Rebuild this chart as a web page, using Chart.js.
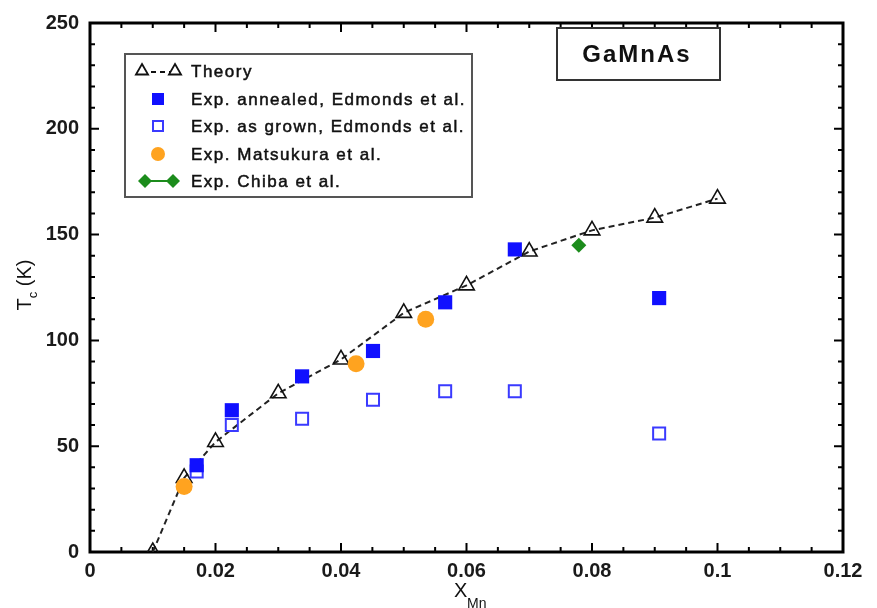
<!DOCTYPE html>
<html>
<head>
<meta charset="utf-8">
<title>GaMnAs Tc</title>
<script src="https://cdn.jsdelivr.net/npm/chart.js@4.4.1/dist/chart.umd.min.js"></script>
<style>
  html, body { margin: 0; padding: 0; background: #fff; }
  canvas { display: block; }
</style>
</head>
<body>
<canvas id="tcChart" width="877" height="608"></canvas>
<script>
// Curie temperature vs Mn fraction
const theoryX = [0.01, 0.015, 0.02, 0.03, 0.04, 0.05, 0.06, 0.07, 0.08, 0.09, 0.1];
const theoryTc = [0, 35, 52, 75, 91, 113, 126, 142, 152, 158, 167];

const edmondsX = [0.017, 0.0226, 0.0338, 0.0451, 0.0566, 0.0677, 0.0907];
const annealedTc = [41, 67, 83, 95, 118, 143, 120];
const asGrownTc = [38, 60, 63, 72, 76, 76, 56];

const matsukuraX = [0.015, 0.0424, 0.0535];
const matsukuraTc = [31, 89, 110];

const chibaX = [0.0779];
const chibaTc = [145];

const xTickLabels = [0, 0.02, 0.04, 0.06, 0.08, 0.1, 0.12];
const yTickLabels = [0, 50, 100, 150, 200, 250];

const legendLabels = [
  'Theory',
  'Exp. annealed, Edmonds et al.',
  'Exp. as grown, Edmonds et al.',
  'Exp. Matsukura et al.',
  'Exp. Chiba et al.'
];

const toPoints = (xs, ys) => xs.map((x, i) => ({ x: x, y: ys[i] }));

const FONT = '"Liberation Sans", Arial, sans-serif';
const BLUE = '#1010ff';
const BLUE_OPEN = '#3a3aff';
const ORANGE = '#ffa31f';
const GREEN = '#1c8c1c';

// frame with inward major/minor ticks on all four sides
const frameTicks = {
  id: 'frameTicks',
  beforeDatasetsDraw(chart) {
    const { ctx, chartArea: a, scales: { x, y } } = chart;
    ctx.save();
    ctx.strokeStyle = '#000';
    ctx.lineWidth = 2;
    ctx.beginPath();
    for (let i = 0; i <= 24; i++) {
      const px = x.getPixelForValue(i * 0.005);
      const len = i % 4 === 0 ? 9 : 5;
      ctx.moveTo(px, a.bottom); ctx.lineTo(px, a.bottom - len);
      ctx.moveTo(px, a.top); ctx.lineTo(px, a.top + len);
    }
    for (let i = 0; i <= 25; i++) {
      const py = y.getPixelForValue(i * 10);
      const len = i % 5 === 0 ? 9 : 5;
      ctx.moveTo(a.left, py); ctx.lineTo(a.left + len, py);
      ctx.moveTo(a.right, py); ctx.lineTo(a.right - len, py);
    }
    ctx.stroke();
    ctx.lineWidth = 3;
    ctx.strokeRect(a.left, a.top, a.right - a.left, a.bottom - a.top);

    // axis titles with subscripts
    ctx.fillStyle = '#111';
    ctx.textBaseline = 'alphabetic';
    ctx.textAlign = 'left';
    ctx.save();
    ctx.translate(31, 285);
    ctx.rotate(-Math.PI / 2);
    ctx.font = '20px ' + FONT;
    const wT = ctx.measureText('T').width;
    const wK = ctx.measureText(' (K)').width;
    ctx.font = '13px ' + FONT;
    const wc = ctx.measureText('c').width;
    const sx = -(wT + wc + wK) / 2;
    ctx.font = '20px ' + FONT;
    ctx.fillText('T', sx, 0);
    ctx.fillText(' (K)', sx + wT + wc, 0);
    ctx.font = '13px ' + FONT;
    ctx.fillText('c', sx + wT, 6);
    ctx.restore();

    ctx.font = '20px ' + FONT;
    ctx.fillText('X', 454, 597);
    ctx.font = '14px ' + FONT;
    ctx.fillText('Mn', 467, 608);
    ctx.restore();
  },
  afterDraw(chart) {
    const { ctx } = chart;
    ctx.save();

    // legend box
    ctx.fillStyle = '#fff';
    ctx.fillRect(125, 54, 347, 143);
    ctx.strokeStyle = '#555';
    ctx.lineWidth = 2;
    ctx.strokeRect(125, 54, 347, 143);

    const rows = [71, 99, 126, 154, 181];
    // Theory: triangle - dash - triangle
    ctx.strokeStyle = '#111';
    ctx.lineWidth = 1.8;
    ctx.setLineDash([5, 4]);
    ctx.beginPath(); ctx.moveTo(142, rows[0] + 1); ctx.lineTo(175, rows[0] + 1); ctx.stroke();
    ctx.setLineDash([]);
    [142, 175].forEach(cx => {
      const r = 7;
      ctx.beginPath();
      ctx.moveTo(cx, rows[0] - r);
      ctx.lineTo(cx + r * 0.866, rows[0] + r * 0.5);
      ctx.lineTo(cx - r * 0.866, rows[0] + r * 0.5);
      ctx.closePath();
      ctx.fillStyle = '#fff';
      ctx.fill();
      ctx.stroke();
    });
    // filled square
    ctx.fillStyle = BLUE;
    ctx.fillRect(152, rows[1] - 6, 12, 12);
    // open square
    ctx.strokeStyle = BLUE_OPEN;
    ctx.lineWidth = 2;
    ctx.strokeRect(153, rows[2] - 5, 10, 10);
    // orange circle
    ctx.fillStyle = ORANGE;
    ctx.beginPath(); ctx.arc(158, rows[3], 7, 0, Math.PI * 2); ctx.fill();
    // Chiba: diamond - line - diamond
    ctx.strokeStyle = GREEN;
    ctx.fillStyle = GREEN;
    ctx.lineWidth = 2;
    ctx.beginPath(); ctx.moveTo(145, rows[4]); ctx.lineTo(173, rows[4]); ctx.stroke();
    [145, 173].forEach(cx => {
      ctx.beginPath();
      ctx.moveTo(cx, rows[4] - 7); ctx.lineTo(cx + 7, rows[4]);
      ctx.lineTo(cx, rows[4] + 7); ctx.lineTo(cx - 7, rows[4]);
      ctx.closePath(); ctx.fill();
    });

    // legend text, slightly emboldened
    ctx.fillStyle = '#111';
    ctx.strokeStyle = '#111';
    ctx.lineWidth = 0.5;
    ctx.font = '17px ' + FONT;
    ctx.letterSpacing = '1.5px';
    ctx.textAlign = 'left';
    ctx.textBaseline = 'middle';
    legendLabels.forEach((t, i) => {
      ctx.fillText(t, 191, rows[i] + 1);
      ctx.strokeText(t, 191, rows[i] + 1);
    });

    // compound label box
    ctx.fillStyle = '#fff';
    ctx.fillRect(557, 28, 163, 52);
    ctx.strokeStyle = '#333';
    ctx.lineWidth = 2;
    ctx.strokeRect(557, 28, 163, 52);
    ctx.fillStyle = '#111';
    ctx.font = 'bold 24px ' + FONT;
    ctx.letterSpacing = '2px';
    ctx.textAlign = 'center';
    ctx.fillText('GaMnAs', 637, 55);
    ctx.restore();
  }
};

new Chart(document.getElementById('tcChart'), {
  type: 'scatter',
  data: {
    datasets: [
      {
        label: legendLabels[0],
        data: toPoints(theoryX, theoryTc),
        showLine: true,
        borderColor: '#222',
        borderWidth: 2,
        borderDash: [6, 4],
        pointStyle: 'triangle',
        pointRadius: 9,
        pointBorderWidth: 1.6,
        pointBorderColor: '#111',
        pointBackgroundColor: 'rgba(0,0,0,0)',
        order: 5
      },
      {
        label: legendLabels[2],
        data: toPoints(edmondsX, asGrownTc),
        pointStyle: 'rect',
        pointRadius: 8.5,
        pointBorderWidth: 2,
        pointBorderColor: BLUE_OPEN,
        pointBackgroundColor: 'rgba(255,255,255,0)',
        order: 4
      },
      {
        label: legendLabels[1],
        data: toPoints(edmondsX, annealedTc),
        pointStyle: 'rect',
        pointRadius: 10,
        pointBorderWidth: 0,
        pointBackgroundColor: BLUE,
        order: 3
      },
      {
        label: legendLabels[3],
        data: toPoints(matsukuraX, matsukuraTc),
        pointStyle: 'circle',
        pointRadius: 8.5,
        pointBorderWidth: 0,
        pointBackgroundColor: ORANGE,
        order: 2
      },
      {
        label: legendLabels[4],
        data: toPoints(chibaX, chibaTc),
        showLine: true,
        borderColor: GREEN,
        borderWidth: 2,
        pointStyle: 'rectRot',
        pointRadius: 7.5,
        pointBorderWidth: 0,
        pointBackgroundColor: GREEN,
        order: 1
      }
    ]
  },
  options: {
    responsive: false,
    animation: false,
    devicePixelRatio: 1,
    layout: { padding: { left: 0, top: 17, right: 34, bottom: 0 } },
    plugins: {
      legend: { display: false },
      tooltip: { enabled: false }
    },
    scales: {
      x: {
        type: 'linear',
        min: 0,
        max: 0.12,
        afterBuildTicks: s => { s.ticks = xTickLabels.map(v => ({ value: v })); },
        afterFit: s => { s.height = 56; },
        grid: { display: false, drawTicks: false },
        border: { display: false },
        ticks: {
          padding: 7,
          color: '#1a1a1a',
          font: { family: FONT, size: 20, weight: 'bold' },
          callback: v => String(+v.toFixed(2))
        }
      },
      y: {
        type: 'linear',
        min: 0,
        max: 250,
        afterBuildTicks: s => { s.ticks = yTickLabels.map(v => ({ value: v })); },
        afterFit: s => { s.width = 90; },
        grid: { display: false, drawTicks: false },
        border: { display: false },
        ticks: {
          padding: 11,
          color: '#1a1a1a',
          font: { family: FONT, size: 20, weight: 'bold' }
        }
      }
    }
  },
  plugins: [frameTicks]
});
</script>
</body>
</html>
